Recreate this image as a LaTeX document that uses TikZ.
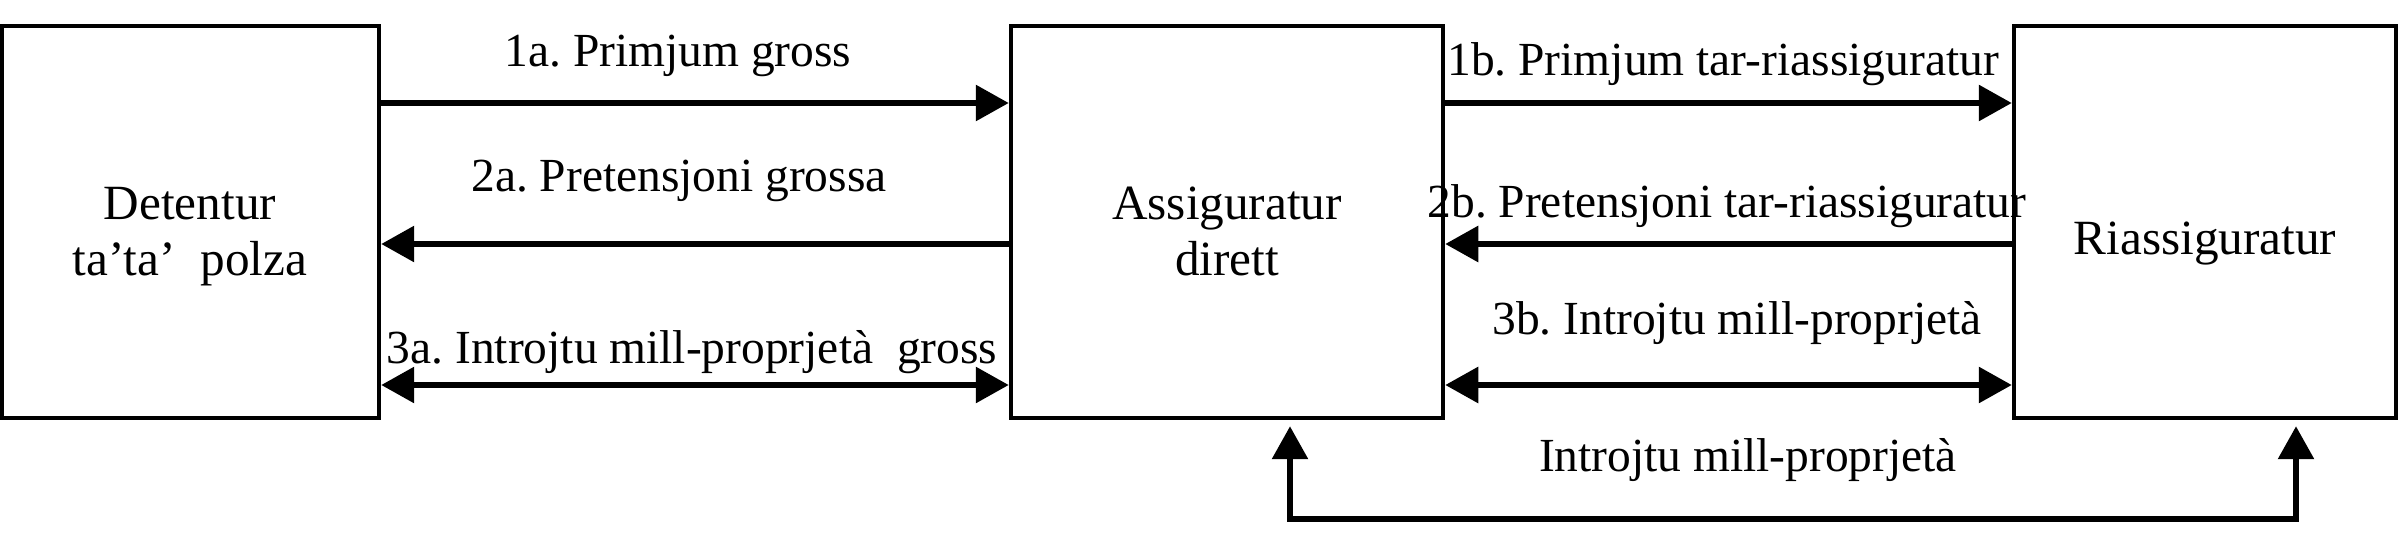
\documentclass[tikz,border=0pt]{standalone}
\usepackage{fontspec}
\setmainfont{Liberation Serif}
\usetikzlibrary{arrows.meta}
\begin{document}
\begin{tikzpicture}[x=0.01cm,y=-0.01cm,
  box/.style={draw,line width=0.042cm,inner sep=0pt},
  arr/.style={line width=0.06cm,-{Triangle[length=0.33cm,width=0.35cm]}},
  dbl/.style={line width=0.06cm,{Triangle[length=0.33cm,width=0.35cm]}-{Triangle[length=0.33cm,width=0.35cm]}},
  txt/.style={anchor=base,inner sep=0pt,font=\fontsize{14pt}{16pt}\selectfont},
  lbl/.style={anchor=base,inner sep=0pt,font=\fontsize{13.5pt}{16pt}\selectfont}]
\useasboundingbox[fill=white] (0,0) rectangle (2399,551);
% boxes
\node[box,minimum width=3.77cm,minimum height=3.92cm] (L) at (190.5,222) {};
\node[box,minimum width=4.32cm,minimum height=3.92cm] (M) at (1227,222) {};
\node[box,minimum width=3.82cm,minimum height=3.92cm] (R) at (2205,222) {};
% box texts
\node[txt] (tL1) at (190,219) {Detentur};
\node[txt] (tL2) at (190,275) {ta’ta’\ \ polza};
\node[txt] (tM1) at (1227,219) {Assiguratur};
\node[txt] (tM2) at (1227,275) {dirett};
\node[txt] (tR) at (2205,254) {Riassiguratur};
% rows
\coordinate (r1) at (0,103);
\coordinate (r2) at (0,244);
\coordinate (r3) at (0,385);
\coordinate (bl) at (1290,519);
\coordinate (br) at (2296,519);
% arrows left
\draw[arr] (L.east |- r1) -- (M.west |- r1);
\draw[arr] (M.west |- r2) -- (L.east |- r2);
\draw[dbl] (L.east |- r3) -- (M.west |- r3);
% arrows right
\draw[arr] (M.east |- r1) -- (R.west |- r1);
\draw[arr] (R.west |- r2) -- (M.east |- r2);
\draw[dbl] (M.east |- r3) -- (R.west |- r3);
% bottom connector
\draw[dbl,shorten <=0.06cm,shorten >=0.06cm] (M.south -| bl) -- (bl) -- (br) -- (R.south -| br);
% labels
\node[lbl] (l1a) at (678,66) {1a.\ Primjum\ gross};
\node[lbl] (l2a) at (679,191) {2a.\ Pretensjoni\ grossa};
\node[lbl] (l3a) at (692,363) {3a.\ Introjtu\ mill-proprjetà\ \ gross};
\node[lbl] (l1b) at (1723,75) {1b.\ Primjum tar-riassiguratur};
\node[lbl] (l2b) at (1727,217) {2b.\ Pretensjoni tar-riassiguratur};
\node[lbl] (l3b) at (1737,334) {3b.\ Introjtu mill-proprjetà};
\node[lbl] (lb) at (1748,471) {Introjtu\ mill-proprjetà};
\end{tikzpicture}
\end{document}
